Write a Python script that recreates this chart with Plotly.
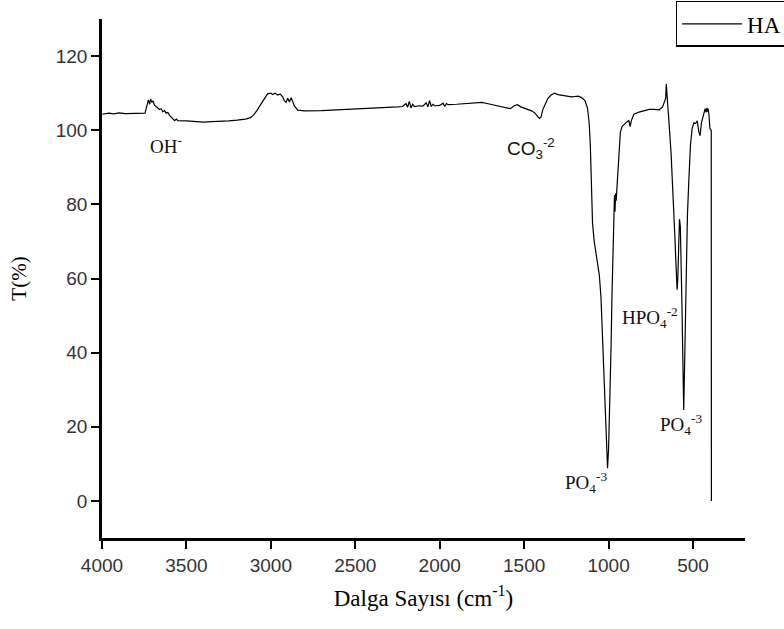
import plotly.graph_objects as go

# Wavenumber (cm^-1) and transmittance (%)
wavenumber = [
    4000, 3960, 3930, 3900, 3860, 3820, 3780, 3745,
    3735, 3725, 3718, 3712, 3705, 3698, 3690, 3680, 3670, 3660, 3650, 3640,
    3630, 3620, 3610, 3600, 3590, 3580, 3570, 3560, 3550,
    3500, 3450, 3400, 3350, 3300, 3250, 3200, 3150, 3120, 3100, 3080, 3060,
    3040, 3020, 3000, 2990, 2975, 2960, 2945, 2930, 2920, 2910, 2900, 2890,
    2880, 2870, 2860, 2840, 2820, 2800, 2700, 2600, 2500, 2400, 2300, 2250,
    2220, 2200, 2190, 2180, 2170, 2160, 2150, 2120, 2100, 2080, 2070, 2060,
    2050, 2040, 2030, 2000, 1980, 1970, 1960, 1950, 1900, 1850, 1800, 1750,
    1720, 1680, 1640, 1600, 1580, 1560, 1540, 1520, 1500, 1480, 1460, 1440,
    1425, 1410, 1400, 1390, 1375, 1360, 1340, 1320, 1300, 1280, 1250, 1220,
    1200, 1180, 1160, 1140, 1125, 1115, 1108, 1100, 1095, 1085, 1070, 1055,
    1045, 1038, 1030, 1022, 1015, 1010, 1006, 1000, 995, 990, 985, 980, 976,
    972, 968, 965, 962, 958, 955, 950, 945, 940, 930, 920, 905, 890, 880, 872,
    865, 850, 820, 790, 760, 730, 700, 680, 670, 662, 658, 655, 650, 645, 638,
    630, 622, 615, 608, 600, 594, 590, 585, 580, 575, 570, 565, 560, 555, 550,
    545, 540, 533, 525, 515, 505, 495, 485, 475, 465, 458, 450, 442, 435, 428,
    422, 418, 414, 410, 405, 400, 392, 391,
]
transmittance = [
    104.3, 104.6, 104.4, 104.7, 104.5, 104.6, 104.5, 104.6,
    106.5, 108.2, 107.0, 108.4, 107.5, 107.9, 106.8, 106.5, 106.0, 105.6, 105.8, 105.0,
    105.3, 104.6, 104.8, 104.0, 103.5, 102.8, 102.6, 103.0, 102.6,
    102.5, 102.3, 102.2, 102.3, 102.3, 102.5, 102.7, 103.0, 103.4, 104.2, 105.5, 107.0,
    108.5, 109.8, 110.0, 109.6, 110.0, 109.5, 109.8, 109.0, 108.0, 107.5, 108.6, 107.6,
    108.8, 107.5, 106.5, 105.4, 105.2, 105.2, 105.3, 105.5, 105.6, 105.9, 106.1, 106.3,
    106.4, 107.2, 106.2, 107.8, 106.0, 107.0, 106.4, 106.6, 106.5, 107.4, 106.3, 108.0,
    106.4, 107.0, 106.6, 106.7, 107.3, 106.4, 107.2, 106.9, 107.0, 107.1, 107.3, 107.5,
    107.2, 106.8, 106.4, 106.0, 105.8, 106.6, 106.9, 106.3, 106.0, 105.6, 105.3, 104.8,
    104.0, 103.2, 103.5, 105.5, 107.0, 108.5, 109.5, 110.0, 109.6, 109.4, 109.3, 109.0,
    109.1, 109.2, 108.8, 108.0, 106.0, 102.0, 96.0, 84.0, 75.0, 70.0, 66.0, 61.0,
    55.0, 46.0, 36.0, 27.0, 17.0, 11.0, 8.8, 14.0, 22.0, 30.0, 42.0, 55.0, 64.0,
    74.0, 80.0, 82.5, 78.0, 83.0, 81.0, 85.0, 90.0, 95.0, 99.5, 101.0, 101.8, 102.3, 102.6, 101.0,
    102.6, 104.3, 104.9, 105.3, 105.6, 105.6, 105.5, 106.3, 107.5, 108.6, 112.5, 108.0, 107.0, 104.0, 100.0,
    94.0, 86.0, 80.0, 72.0, 63.0, 57.0, 60.0, 70.0, 76.0, 74.0, 66.0, 52.0, 38.0, 24.5, 36.0,
    52.0, 66.0, 77.0, 86.0, 96.0, 100.5, 102.0, 101.8, 102.5, 99.5, 98.5, 102.0, 103.5, 104.0, 105.8,
    104.8, 106.0, 105.0, 105.8, 104.0, 100.5, 100.0, 0.0,
]

x_ticks = [4000, 3500, 3000, 2500, 2000, 1500, 1000, 500]
y_ticks = [0, 20, 40, 60, 80, 100, 120]

# Band labels: (text, wavenumber, transmittance, font family)
band_labels = [
    ("OH<sup>-</sup>", 3621, 96.0, "Liberation Serif"),
    ("CO<sub>3</sub><sup>-2</sup>", 1462, 95.0, "Liberation Sans"),
    ("HPO<sub>4</sub><sup>-2</sup>", 752, 49.5, "Liberation Serif"),
    ("PO<sub>4</sub><sup>-3</sup>", 574, 20.5, "Liberation Serif"),
    ("PO<sub>4</sub><sup>-3</sup>", 1136, 5.0, "Liberation Serif"),
]

fig = go.Figure()
fig.add_trace(go.Scatter(
    x=wavenumber, y=transmittance, mode="lines", name="HA",
    line=dict(color="black", width=1.2),
))

for text, xv, yv, fam in band_labels:
    fig.add_annotation(
        x=xv, y=yv, text=text, showarrow=False,
        font=dict(family=fam, size=19, color="#111"),
        xanchor="center", yanchor="middle",
    )

fig.update_layout(
    width=784, height=629,
    paper_bgcolor="white", plot_bgcolor="white",
    margin=dict(l=102, r=39, t=19, b=91, autoexpand=False),
    showlegend=True,
    legend=dict(
        x=0.892, y=1.035, xanchor="left", yanchor="top",
        bordercolor="black", borderwidth=1.5, bgcolor="white",
        font=dict(family="Liberation Serif", size=23, color="black"),
        itemwidth=60, tracegroupgap=0,
    ),
    xaxis=dict(
        range=[4000, 192], tickvals=x_ticks,
        showline=True, linecolor="black", linewidth=2.5,
        ticks="outside", ticklen=8, tickwidth=2, tickcolor="black",
        showgrid=False, zeroline=False,
        tickfont=dict(family="Liberation Sans", size=19, color="#333"),
        title=dict(text="Dalga Sayısı (cm<sup>-1</sup>)",
                   font=dict(family="Liberation Serif", size=23, color="black"),
                   standoff=16),
    ),
    yaxis=dict(
        range=[-10, 130], tickvals=y_ticks,
        showline=True, linecolor="black", linewidth=2.5,
        ticks="outside", ticklen=8, tickwidth=2, tickcolor="black",
        showgrid=False, zeroline=False,
        tickfont=dict(family="Liberation Sans", size=19, color="#333"),
        title=dict(text="T(%)",
                   font=dict(family="Liberation Serif", size=21, color="black"),
                   standoff=24),
    ),
)

fig.write_html("out.html", config={"displayModeBar": False},
               post_script="document.body.style.margin='0px';")
